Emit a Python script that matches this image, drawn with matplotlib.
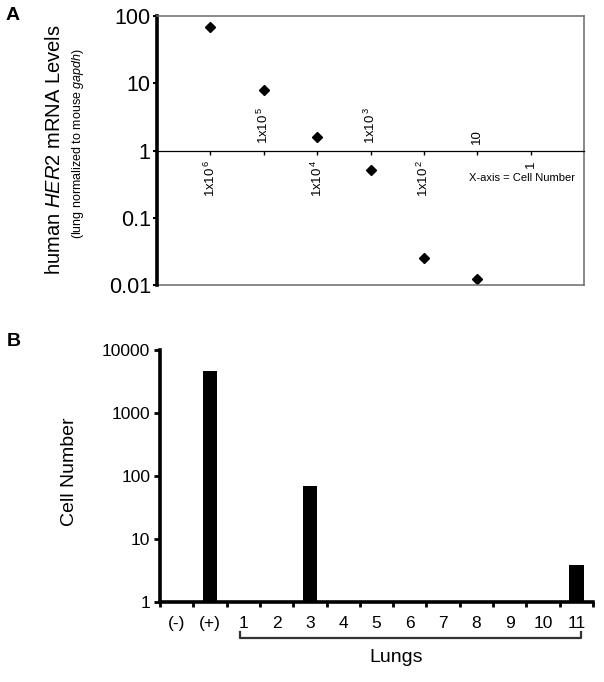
import numpy as np
import matplotlib
matplotlib.use("Agg")
import matplotlib.pyplot as plt
from matplotlib.ticker import FixedLocator, NullFormatter, NullLocator

plt.rcParams['font.family'] = ['Liberation Sans', 'DejaVu Sans']
plt.rcParams['mathtext.fontset'] = 'custom'
plt.rcParams['mathtext.rm'] = 'Liberation Sans'
plt.rcParams['mathtext.it'] = 'Liberation Sans:italic'
plt.rcParams['mathtext.bf'] = 'Liberation Sans:bold'

# ---------------- data ----------------
# Panel A
cell_labels = [r'1x10$^{\,6}$', r'1x10$^{\,5}$', r'1x10$^{\,4}$', r'1x10$^{\,3}$',
               r'1x10$^{\,2}$', '10', '1']
her2_levels = [69, 8.06, 1.59, 0.52, 0.0254, 0.0121, np.nan]
a_yticks = [0.01, 0.1, 1, 10, 100]
a_yticklabels = ['0.01', '0.1', '1', '10', '100']

# Panel B
b_categories = ['(-)', '(+)', '1', '2', '3', '4', '5', '6', '7', '8', '9', '10', '11']
cell_numbers = [0, 4600, 0, 0, 68.8, 0, 0, 0, 0, 0, 0, 0, 3.82]
b_yticks = [1, 10, 100, 1000, 10000]
b_yticklabels = ['1', '10', '100', '1000', '10000']

fig = plt.figure(figsize=(6.04, 6.82), dpi=100)

# ---------------- Panel A ----------------
axA = fig.add_axes([157/604, 1-285/682, (584-157)/604, (285-16)/682])
xa = np.arange(1, len(cell_labels)+1)
axA.set_yscale('log')
axA.set_ylim(0.01, 100)
axA.set_xlim(0, len(cell_labels)+1)
axA.plot(xa, her2_levels, linestyle='none', marker='D', ms=5.3, color='black')

axA.spines['left'].set_linewidth(2.6)
axA.spines['left'].set_color('black')
for s in ['top', 'right']:
    axA.spines[s].set_linewidth(1.1)
    axA.spines[s].set_color('#6a6a6a')
axA.spines['bottom'].set_position(('data', 1))
axA.spines['bottom'].set_linewidth(0.9)
axA.spines['bottom'].set_color('black')
# bottom frame border
axA.plot([0, 1], [0, 0], transform=axA.transAxes, color='#6a6a6a', lw=1.1, clip_on=False)

axA.yaxis.set_major_locator(FixedLocator(a_yticks))
axA.set_yticklabels(a_yticklabels, fontsize=15.5)
axA.yaxis.set_minor_locator(NullLocator())
axA.tick_params(axis='y', length=3, width=1.5, pad=1.5)
axA.set_xticks(xa)
axA.set_xticklabels([])
axA.tick_params(axis='x', direction='out', length=3, width=1.0, color='black')

for i, (x, lab) in enumerate(zip(xa, cell_labels)):
    if i % 2 == 0:
        axA.annotate(lab, (x, 1), xytext=(0, -7), textcoords='offset points',
                     rotation=90, ha='center', va='top', fontsize=9.5)
    else:
        axA.annotate(lab, (x, 1), xytext=(0, 5), textcoords='offset points',
                     rotation=90, ha='center', va='bottom', fontsize=9.5)

fig.text(522/604, 1-178/682, 'X-axis = Cell Number', fontsize=8, ha='center', va='center')

fig.text(55/604, 1-150/682, r'human $\it{HER2}$ mRNA Levels', rotation=90,
         fontsize=14.5, ha='center', va='center')
fig.text(78/604, 1-144/682, r'(lung normalized to mouse $\it{gapdh}$)', rotation=90,
         fontsize=9, ha='center', va='center')
fig.text(13/604, 1-15/682, 'A', fontsize=14, fontweight='bold', ha='center', va='center')

# ---------------- Panel B ----------------
axB = fig.add_axes([160/604, 1-602/682, (593-160)/604, (602-350)/682])
xb = np.arange(len(b_categories))
axB.set_yscale('log')
axB.bar(xb, cell_numbers, width=0.44, color='black')
axB.set_ylim(1, 10000)
axB.set_xlim(-0.5, len(b_categories)-0.5)

for s in ['top', 'right']:
    axB.spines[s].set_visible(False)
for s in ['left', 'bottom']:
    axB.spines[s].set_linewidth(2.6)
    axB.spines[s].set_color('black')

axB.yaxis.set_major_locator(FixedLocator(b_yticks))
axB.set_yticklabels(b_yticklabels, fontsize=12.5)
axB.yaxis.set_minor_locator(NullLocator())
axB.tick_params(axis='y', length=4, width=2, pad=3)

axB.set_xticks(xb)
axB.set_xticklabels(b_categories, fontsize=12.5)
axB.tick_params(axis='x', which='major', length=0, pad=10)
axB.set_xticks(np.arange(-0.5, len(b_categories)), minor=True)
axB.xaxis.set_minor_formatter(NullFormatter())
axB.tick_params(axis='x', which='minor', length=3.5, width=2, direction='out')

# bracket under lungs 1..11
trans = axB.get_xaxis_transform()
lung_start = b_categories.index('1')
lung_end = b_categories.index('11')
x0, x1 = lung_start - 0.1, lung_end + 0.15
yb, yh = -0.143, -0.119
axB.plot([x0, x0, x1, x1], [yh, yb, yb, yh], transform=trans, color='#333333',
         lw=1.6, clip_on=False)
axB.text((x0 + x1)/2 - 0.45, -0.222, 'Lungs', transform=trans, fontsize=14,
         ha='center', va='center')

fig.text(70/604, 1-472/682, 'Cell Number', rotation=90, fontsize=14,
         ha='center', va='center')
fig.text(14/604, 1-341/682, 'B', fontsize=14, fontweight='bold', ha='center', va='center')

fig.savefig('out.png', dpi=100)
